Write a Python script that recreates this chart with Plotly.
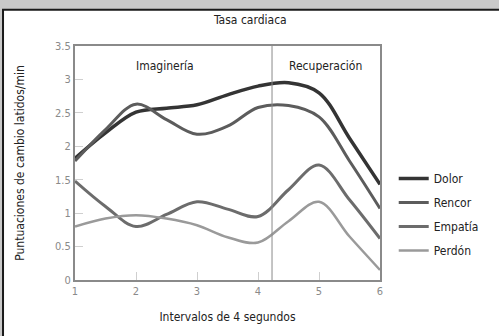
import plotly.graph_objects as go

x_vals = [1, 1.5, 2, 2.5, 3, 3.5, 4, 4.5, 5, 5.5, 6]
dolor = [1.82, 2.2, 2.51, 2.57, 2.62, 2.77, 2.9, 2.95, 2.8, 2.12, 1.43]
rencor = [1.78, 2.25, 2.63, 2.4, 2.18, 2.3, 2.58, 2.61, 2.44, 1.78, 1.07]
empatia = [1.48, 1.1, 0.8, 0.98, 1.17, 1.06, 0.95, 1.35, 1.72, 1.2, 0.62]
perdon = [0.8, 0.92, 0.97, 0.92, 0.82, 0.64, 0.56, 0.88, 1.17, 0.65, 0.15]

series_names = ["Dolor", "Rencor", "Empatía", "Perdón"]
series_vals = [dolor, rencor, empatia, perdon]
colors = ["#343434", "#5c5c5c", "#6c6c6c", "#9a9a9a"]
widths = [3.5, 3, 3, 2.5]

y_ticks = [0, 0.5, 1, 1.5, 2, 2.5, 3, 3.5]
y_tick_text = ["0", "0.5", "1", "1.5", "2", "2.5", "3", "3.5"]
x_ticks = [1, 2, 3, 4, 5, 6]
divider_x = 4.23

FONT = "DejaVu Sans Condensed, Liberation Sans Narrow, Liberation Sans, Arial"

fig = go.Figure()
for i, (name, vals) in enumerate(zip(series_names, series_vals)):
    fig.add_trace(go.Scatter(
        x=x_vals, y=vals, name=name, mode="lines",
        line=dict(color=colors[i], width=widths[i], shape="spline", smoothing=1.0),
        legendgroup=name, hoverinfo="skip",
    ))

# background frame
fig.add_shape(type="rect", xref="paper", yref="paper",
              x0=-0.236, x1=1.5, y0=-0.4, y1=1.155,
              fillcolor="white", line=dict(color="#1a1a1a", width=2), layer="below")
# divider line
fig.add_shape(type="line", xref="x", yref="y", x0=divider_x, x1=divider_x, y0=0, y1=3.5,
              line=dict(color="#8a8a8a", width=1))

fig.add_annotation(text="Imaginería", xref="x", yref="y", x=2.47, y=3.2,
                   showarrow=False, font=dict(size=12, color="#222", family=FONT))
fig.add_annotation(text="Recuperación", xref="x", yref="y", x=5.11, y=3.2,
                   showarrow=False, font=dict(size=12, color="#222", family=FONT))
fig.add_annotation(text="Tasa cardiaca", xref="paper", yref="paper", x=0.575, y=1.111,
                   yanchor="middle", showarrow=False,
                   font=dict(size=12, color="#222", family=FONT))

fig.update_layout(
    width=499, height=336,
    margin=dict(l=75, r=119, t=46, b=56, autoexpand=False),
    paper_bgcolor="#c9c9c9",
    plot_bgcolor="white",
    font=dict(family=FONT, color="#222", size=12),
    legend=dict(x=1.045, y=0.28, xanchor="left", yanchor="middle",
                font=dict(size=12, color="#222", family=FONT),
                bgcolor="rgba(0,0,0,0)", tracegroupgap=5, itemwidth=30),
    showlegend=True,
)
fig.update_xaxes(range=[1, 6], tickvals=x_ticks, ticktext=[str(v) for v in x_ticks],
                 showgrid=False, zeroline=False, showline=True, linecolor="#8a8a8a",
                 linewidth=2, mirror=True, ticks="inside", ticklen=8, tickcolor="#cfcfcf",
                 automargin=False,
                 tickfont=dict(size=11, color="#8a8a8a", family=FONT),
                 title=dict(text="Intervalos de 4 segundos", standoff=15,
                            font=dict(size=12, color="#222", family=FONT)))
fig.update_yaxes(range=[0, 3.5], tickvals=y_ticks, ticktext=y_tick_text,
                 showgrid=False, zeroline=False, showline=True, linecolor="#8a8a8a",
                 linewidth=2, mirror=True, ticks="inside", ticklen=8, tickcolor="#cfcfcf",
                 automargin=False,
                 tickfont=dict(size=11, color="#8a8a8a", family=FONT),
                 title=dict(text="Puntuaciones de cambio latidos/min", standoff=28,
                            font=dict(size=12, color="#222", family=FONT)))

fig.write_html("out.html", config={"displayModeBar": False},
               post_script="document.body.style.margin='0';document.body.style.overflow='hidden';")
